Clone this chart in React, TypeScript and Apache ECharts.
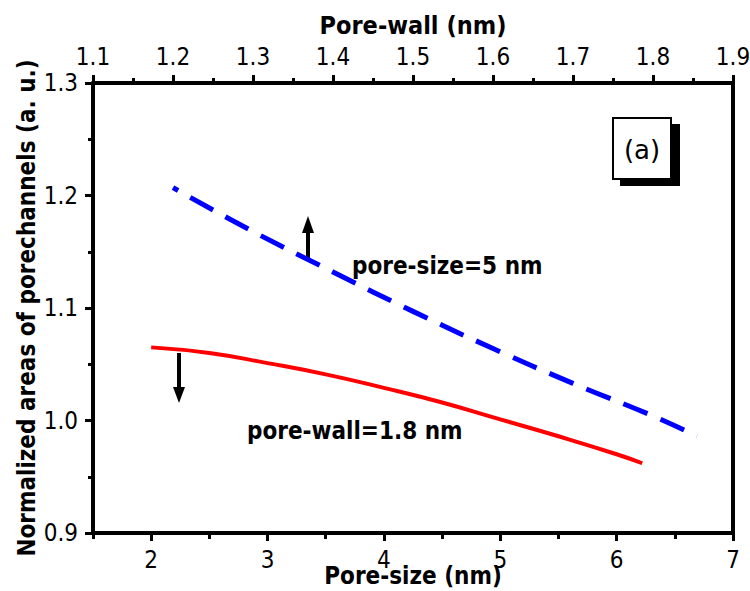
import React, { useEffect, useRef } from "react";
import * as echarts from "echarts";

// Pore-size (bottom axis) series: pore-wall fixed at 1.8 nm
const poreSizeX = [2.0, 2.5, 3.0, 3.5, 4.0, 4.5, 5.0, 5.5, 6.0, 6.22];
const poreWallFixedY = [1.065, 1.06, 1.051, 1.041, 1.029, 1.016, 1.001, 0.986, 0.97, 0.962];

// Pore-wall (top axis) series: pore-size fixed at 5 nm
const poreWallX = [1.2, 1.3, 1.4, 1.5, 1.6, 1.7, 1.8, 1.855];
const poreSizeFixedY = [1.207, 1.168, 1.132, 1.097, 1.064, 1.033, 1.004, 0.986];

const bottomMajor = [2, 3, 4, 5, 6, 7];
const bottomMinor = [1.5, 2.5, 3.5, 4.5, 5.5, 6.5];
const topMajor = [1.1, 1.2, 1.3, 1.4, 1.5, 1.6, 1.7, 1.8, 1.9];
const topMinor = [1.15, 1.25, 1.35, 1.45, 1.55, 1.65, 1.75, 1.85];
const leftMajor = [0.9, 1.0, 1.1, 1.2, 1.3];
const leftMinor = [0.95, 1.05, 1.15, 1.25];

const FONT = "'DejaVu Sans Condensed', 'DejaVu Sans', sans-serif";

export default function App() {
  const ref = useRef<HTMLDivElement>(null);
  useEffect(() => {
    if (!ref.current) return;
    const chart = echarts.init(ref.current, null, { renderer: "svg" });
    const grid = { left: 93, right: 17, top: 83, bottom: 58, outerBoundsMode: "none", containLabel: false };
    const axisLine = { show: true, lineStyle: { color: "#000", width: 4 } };
    const labelStyle = { color: "#000", fontFamily: FONT, fontSize: 24 };
    const nameStyle = { color: "#000", fontFamily: FONT, fontWeight: "bold" as const };
    chart.setOption({
      animation: false,
      backgroundColor: "#fff",
      grid: [grid, grid],
      xAxis: [
        {
          type: "value", gridIndex: 0, position: "bottom", min: 1.5, max: 7,
          axisLine, splitLine: { show: false },
          axisTick: { show: true, customValues: bottomMajor, length: 8, lineStyle: { width: 3, color: "#000" } },
          axisLabel: { ...labelStyle, customValues: bottomMajor, margin: 15 },
          name: "Pore-size (nm)", nameLocation: "middle", nameGap: 31, nameMoveOverlap: false,
          nameTextStyle: { ...nameStyle, fontSize: 24 },
        },
        {
          type: "value", gridIndex: 0, position: "top", min: 1.1, max: 1.9,
          axisLine, splitLine: { show: false },
          axisTick: { show: true, customValues: topMajor, length: 8, lineStyle: { width: 3, color: "#000" } },
          axisLabel: { ...labelStyle, customValues: topMajor, margin: 14, formatter: (v: number) => v.toFixed(1) },
          name: "Pore-wall (nm)", nameLocation: "middle", nameGap: 45, nameMoveOverlap: false,
          nameTextStyle: { ...nameStyle, fontSize: 25 },
        },
        {
          type: "value", gridIndex: 1, position: "bottom", min: 1.5, max: 7,
          axisLine: { show: false }, splitLine: { show: false }, axisLabel: { show: false },
          axisTick: { show: true, customValues: bottomMinor, length: 6, lineStyle: { width: 3, color: "#000" } },
        },
        {
          type: "value", gridIndex: 1, position: "top", min: 1.1, max: 1.9,
          axisLine: { show: false }, splitLine: { show: false }, axisLabel: { show: false },
          axisTick: { show: true, customValues: topMinor, length: 5, lineStyle: { width: 3, color: "#000" } },
        },
      ],
      yAxis: [
        {
          type: "value", gridIndex: 0, position: "left", min: 0.9, max: 1.3,
          axisLine, splitLine: { show: false },
          axisTick: { show: true, customValues: leftMajor, length: 8, lineStyle: { width: 3, color: "#000" } },
          axisLabel: { ...labelStyle, customValues: leftMajor, margin: 15, formatter: (v: number) => v.toFixed(1) },
          name: "Normalized areas of porechannels (a. u.)", nameLocation: "middle", nameGap: 54, nameMoveOverlap: false,
          nameTextStyle: { ...nameStyle, fontSize: 24 },
        },
        {
          type: "value", gridIndex: 0, position: "right", min: 0.9, max: 1.3,
          axisLine, splitLine: { show: false }, axisTick: { show: false }, axisLabel: { show: false },
        },
        {
          type: "value", gridIndex: 1, position: "left", min: 0.9, max: 1.3,
          axisLine: { show: false }, splitLine: { show: false }, axisLabel: { show: false },
          axisTick: { show: true, customValues: leftMinor, length: 5, lineStyle: { width: 3, color: "#000" } },
        },
      ],
      series: [
        {
          name: "pore-size=5 nm", type: "line", xAxisIndex: 1, yAxisIndex: 0,
          data: poreWallX.map((x, i) => [x, poreSizeFixedY[i]]),
          smooth: true, showSymbol: false,
          lineStyle: { color: "#0000ff", width: 5, type: [26, 14], dashOffset: 20, cap: "butt" },
        },
        {
          name: "pore-wall=1.8 nm", type: "line", xAxisIndex: 0, yAxisIndex: 0,
          data: poreSizeX.map((x, i) => [x, poreWallFixedY[i]]),
          smooth: true, showSymbol: false,
          lineStyle: { color: "#ff0000", width: 4 },
        },
      ],
      graphic: [
        { type: "rect", shape: { x: 620, y: 124, width: 60, height: 62 }, style: { fill: "#000" } },
        { type: "rect", shape: { x: 613, y: 118, width: 58, height: 61 }, style: { fill: "#fff", stroke: "#000", lineWidth: 2 } },
        { type: "text", x: 642, y: 150, style: { text: "(a)", fill: "#000", font: "26px 'DejaVu Sans', sans-serif", align: "center", verticalAlign: "middle" } },
        { type: "line", shape: { x1: 308, y1: 258, x2: 308, y2: 228 }, style: { stroke: "#000", lineWidth: 4 } },
        { type: "polygon", shape: { points: [[308, 216], [302, 233], [314, 233]] }, style: { fill: "#000" } },
        { type: "line", shape: { x1: 179, y1: 353, x2: 179, y2: 390 }, style: { stroke: "#000", lineWidth: 4 } },
        { type: "polygon", shape: { points: [[179, 403], [173, 387], [185, 387]] }, style: { fill: "#000" } },
        { type: "text", x: 352, y: 266, style: { text: "pore-size=5 nm", fill: "#000", font: `bold 24px ${FONT}`, verticalAlign: "middle" } },
        { type: "text", x: 247, y: 431, style: { text: "pore-wall=1.8 nm", fill: "#000", font: `bold 24px ${FONT}`, verticalAlign: "middle" } },
      ],
    });
    return () => chart.dispose();
  }, []);
  return <div ref={ref} style={{ position: "absolute", left: 0, top: 0, width: 750, height: 591 }} />;
}
